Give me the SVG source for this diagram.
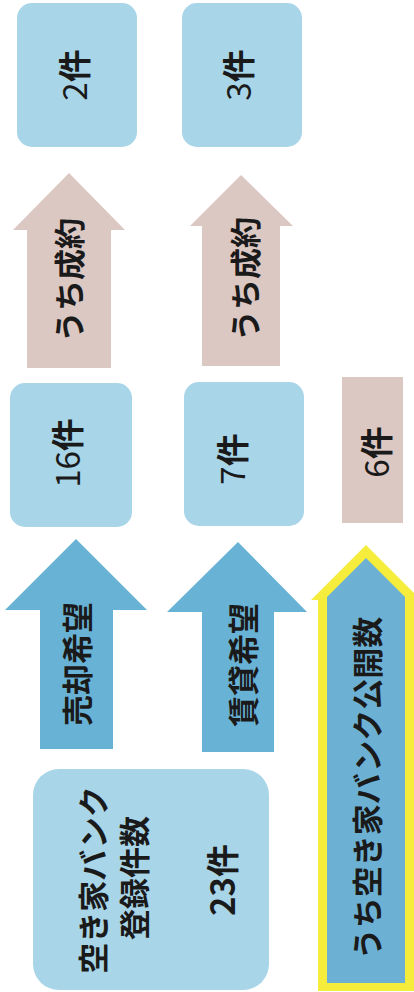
<svg xmlns="http://www.w3.org/2000/svg" width="414" height="992" viewBox="0 0 414 992">
<style>
.box{fill:#a8d5e8}
.pink{fill:#dcc8c3}
.blue{fill:#68b2d6}
.t{font-family:"Noto Sans CJK JP","Noto Sans",sans-serif;font-size:31px;font-weight:700;fill:#1a1a1a;text-anchor:middle;dominant-baseline:central}
.n{font-size:33px}
.d{font-weight:400}
</style>
<rect width="414" height="992" fill="#ffffff"/>
<g id="connectors">
<g id="arrow-seiyaku-1"><polygon class="pink" points="69,173 125,230 111,230 111,368 27,368 27,230 13,230"/><text class="t" transform="translate(67,280) rotate(-90)">うち成約</text></g>
<g id="arrow-seiyaku-2"><polygon class="pink" points="241,175 293,226 280,226 280,366 202,366 202,226 190,226"/><text class="t" transform="translate(243,279) rotate(-90)">うち成約</text></g>
<g id="arrow-baikyaku"><polygon class="blue" points="76,539 147,610 113,610 113,749 40,749 40,610 5,610"/><text class="t" transform="translate(75,664) rotate(-90)">売却希望</text></g>
<g id="arrow-chintai"><polygon class="blue" points="238,542 307,612 274,612 274,752 202,752 202,612 167,612"/><text class="t" transform="translate(241,665) rotate(-90)">賃貸希望</text></g>
<g id="arrow-koukai"><polygon fill="#f6ec3c" points="366,545 421,600 414,600 414,991 318,991 318,600 311,600"/><polygon fill="#6cb1d4" points="366,558 405,597 405,983 327,983 327,597"/><text class="t" transform="translate(365,788) rotate(-90)">うち空き家バンク公開数</text></g>
</g>
<g id="node-2ken"><rect class="box" x="17" y="3" width="120" height="144" rx="15"/><text class="t n" transform="translate(73,75) rotate(-90)"><tspan class="d">2</tspan>件</text></g>
<g id="node-3ken"><rect class="box" x="182" y="3" width="120" height="144" rx="15"/><text class="t n" transform="translate(237,75) rotate(-90)"><tspan class="d">3</tspan>件</text></g>
<g id="node-16ken"><rect class="box" x="10" y="383" width="122" height="144" rx="15"/><text class="t n" transform="translate(66,453) rotate(-90)"><tspan class="d">16</tspan>件</text></g>
<g id="node-7ken"><rect class="box" x="184" y="382" width="120" height="144" rx="15"/><text class="t n" transform="translate(231,459) rotate(-90)"><tspan class="d">7</tspan>件</text></g>
<g id="node-6ken"><rect class="pink" x="342" y="377" width="61" height="146"/><text class="t n" transform="translate(375,452) rotate(-90)"><tspan class="d">6</tspan>件</text></g>
<g id="node-total"><rect class="box" x="33" y="769" width="236" height="221" rx="26"/><text class="t" transform="translate(91,880) rotate(-90)">空き家バンク</text><text class="t" transform="translate(132,878) rotate(-90)">登録件数</text><text class="t n" transform="translate(221,880) rotate(-90)">23件</text></g>
</svg>
